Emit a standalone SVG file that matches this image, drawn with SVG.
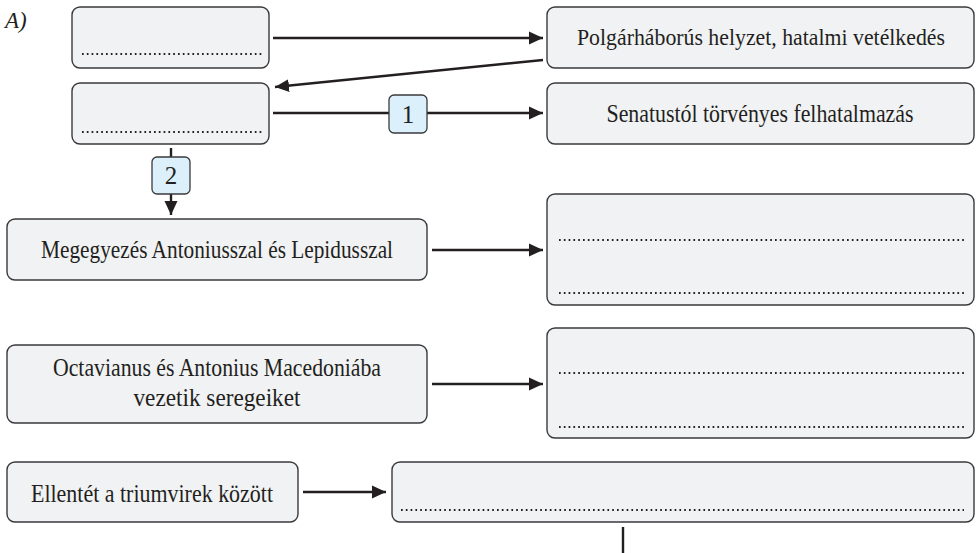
<svg xmlns="http://www.w3.org/2000/svg" width="979" height="553" viewBox="0 0 979 553">
<style>
.box{fill:#f1f2f4;stroke:#3a3a3c;stroke-width:1.4}
.badge{fill:#dcf0fb;stroke:#3a3a3c;stroke-width:1.3}
.dots{stroke:#222;stroke-width:1.8;stroke-dasharray:1.7 3.1;fill:none}
.c{stroke:#231f20;stroke-width:2.4;fill:none}
text{fill:#231f20}
</style>
<defs>
<marker id="ah" markerUnits="userSpaceOnUse" markerWidth="15" markerHeight="14" refX="14" refY="7" orient="auto">
<path d="M0,0.5 L14,7 L0,13.5 z" fill="#231f20"/>
</marker>
</defs>
<g font-family="Liberation Serif, DejaVu Serif, serif" font-size="26" text-anchor="middle">
<text x="5" y="28" font-style="italic" font-size="23" text-anchor="start">A)</text>
<g id="connectors">
<path class="c" d="M273,38 L543,38" marker-end="url(#ah)"/>
<path class="c" d="M543,60 L275,87" marker-end="url(#ah)"/>
<path class="c" d="M273,113 L389,113"/>
<path class="c" d="M427,113 L543,113" marker-end="url(#ah)"/>
<path class="c" d="M171,148 L171,157"/>
<path class="c" d="M171,194 L171,215" marker-end="url(#ah)"/>
<path class="c" d="M432,250 L543,250" marker-end="url(#ah)"/>
<path class="c" d="M432,384 L543,384" marker-end="url(#ah)"/>
<path class="c" d="M303,492 L386,492" marker-end="url(#ah)"/>
<path class="c" d="M623,527 L623,553"/>
</g>
<g id="n1"><rect class="box" x="72" y="7" width="197" height="61" rx="8"/><path class="dots" d="M82,54 H262"/></g>
<g id="n2"><rect class="box" x="72" y="83" width="197" height="61" rx="8"/><path class="dots" d="M82,132 H262"/></g>
<g id="n3"><rect class="box" x="547" y="7" width="427" height="61" rx="8"/><text x="761" y="45" font-size="23" textLength="368" lengthAdjust="spacingAndGlyphs">Polgárháborús helyzet, hatalmi vetélkedés</text></g>
<g id="n4"><rect class="box" x="547" y="83" width="427" height="61" rx="8"/><text x="760" y="122" textLength="307" lengthAdjust="spacingAndGlyphs">Senatustól törvényes felhatalmazás</text></g>
<g id="b1"><rect class="badge" x="389" y="95" width="38" height="38" rx="5"/><text x="408" y="123" font-size="25">1</text></g>
<g id="b2"><rect class="badge" x="152" y="157" width="38" height="37" rx="5"/><text x="171" y="184" font-size="25">2</text></g>
<g id="n5"><rect class="box" x="7" y="219" width="420" height="61" rx="8"/><text x="217" y="258" textLength="352" lengthAdjust="spacingAndGlyphs">Megegyezés Antoniusszal és Lepidusszal</text></g>
<g id="n6"><rect class="box" x="547" y="194" width="427" height="111" rx="8"/><path class="dots" d="M559,240 H964 M559,293 H964"/></g>
<g id="n7"><rect class="box" x="7" y="345" width="420" height="78" rx="8"/><text x="217" y="376" textLength="328" lengthAdjust="spacingAndGlyphs">Octavianus és Antonius Macedoniába</text><text x="217" y="406" textLength="167" lengthAdjust="spacingAndGlyphs">vezetik seregeiket</text></g>
<g id="n8"><rect class="box" x="547" y="328" width="427" height="110" rx="8"/><path class="dots" d="M559,373 H964 M559,427 H964"/></g>
<g id="n9"><rect class="box" x="7" y="462" width="291" height="60" rx="8"/><text x="152" y="502" textLength="242" lengthAdjust="spacingAndGlyphs">Ellentét a triumvirek között</text></g>
<g id="n10"><rect class="box" x="392" y="462" width="582" height="60" rx="8"/><path class="dots" d="M401,510 H964"/></g>
</g>
</svg>
